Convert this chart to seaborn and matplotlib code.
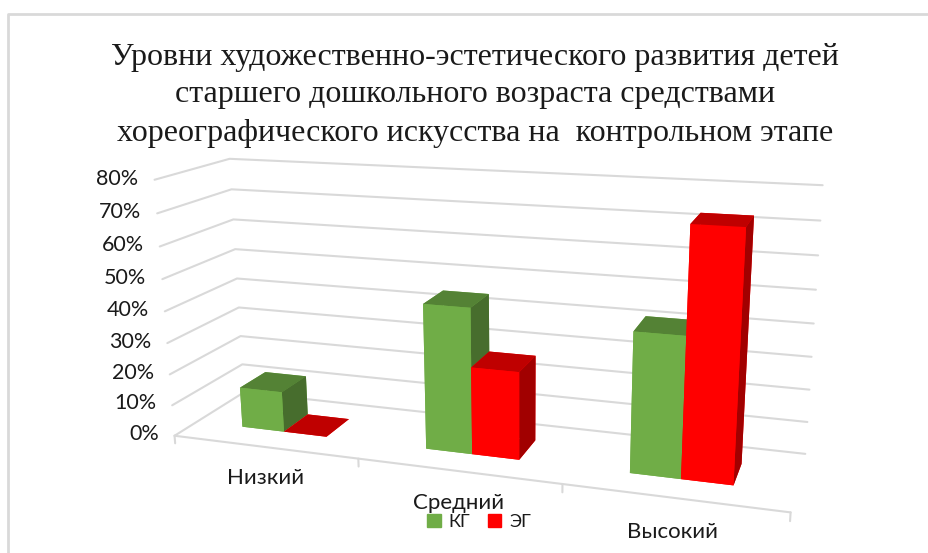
import matplotlib
matplotlib.use("Agg")
import matplotlib.pyplot as plt
from matplotlib.lines import Line2D
from matplotlib.patches import Rectangle
import seaborn as sns

# Values (percent)
categories = ["Низкий", "Средний", "Высокий"]
kg_values = [13, 45, 42]
eg_values = [0, 27, 73]
series_names = ["КГ", "ЭГ"]
y_ticks = [0, 10, 20, 30, 40, 50, 60, 70, 80]
title_lines = [
    "Уровни художественно-эстетического развития детей",
    "старшего дошкольного возраста средствами",
    "хореографического искусства на  контрольном этапе",
]

sns.set_theme(style="white")
plt.rcParams["font.family"] = ["Lato", "DejaVu Sans"]

palette = sns.color_palette(["#70AD47", "#FF0000"])
grid_color = "#D9D9D9"


def shade(color, factor):
    return tuple(c * factor for c in color)


fig = plt.figure(figsize=(9.29, 5.53), dpi=100)

# chart frame: only the top and left edges are in the screenshot
fig.add_artist(Line2D([8 / 929, 8 / 929, 1], [0, 1 - 14 / 553, 1 - 14 / 553],
                      transform=fig.transFigure, color=grid_color, lw=2))

ax = fig.add_axes([0.127, -0.230, 0.761, 1.278], projection="3d",
                  computed_zorder=False)
ax.view_init(elev=15.5, azim=-71, roll=0.5)
ax.set_proj_type("persp", focal_length=0.33)
ax.set_box_aspect((600, 140, 257), zoom=0.97)
ax.set_xlim(0, len(categories), view_margin=0)
ax.set_ylim(0, 1, view_margin=0)
ax.set_zlim(0, max(y_ticks), view_margin=0)
ax.set_axis_off()
ax.patch.set_alpha(0)

n = len(categories)

# wall gridlines
for t in y_ticks:
    ax.plot([0, 0, n], [0, 1, 1], [t, t, t], color=grid_color, lw=1.5, zorder=1)
    ax.text(-0.09, 0, t, f"{t}%", ha="right", va="center", fontsize=15.5,
            color="#1a1a1a", zorder=50)

# floor front edge and category ticks
ax.plot([0, n], [0, 0], [0, 0], color=grid_color, lw=1.5, zorder=1)
for i in range(n + 1):
    ax.plot([i, i], [0, 0], [0, -2.5], color=grid_color, lw=1.5, zorder=1)

# bars, drawn left to right so nearer ones cover farther ones
bar_w = 0.235
bar_start = 0.26
z = 2
for i in range(n):
    for j, vals in enumerate([kg_values, eg_values]):
        c = palette[j]
        faces = [c, shade(c, 0.75), c, c, c, shade(c, 0.63)]
        ax.bar3d(i + bar_start + j * bar_w, 0.31, 0, bar_w, 0.38, vals[i],
                 color=faces, shade=False, linewidth=0, zorder=z)
        z += 1

# category labels under the floor
for i, name in enumerate(categories):
    ax.text(i + 0.5, 0, -10, name, ha="center", va="center", fontsize=16,
            color="#1a1a1a", zorder=50)

for k, line in enumerate(title_lines):
    fig.text(475 / 929, 1 - (57 + 38 * k) / 553, line, ha="center", va="center",
             fontsize=23, family="Liberation Serif", color="#1a1a1a")

handles = [Rectangle((0, 0), 1, 1, color=palette[j]) for j in range(2)]
fig.legend(handles, series_names, loc="center", bbox_to_anchor=(479 / 929, 1 - 522 / 553),
           ncol=2, frameon=False, fontsize=13, handlelength=0.75, handleheight=0.75,
           handletextpad=0.45, columnspacing=0.95, labelcolor="#1a1a1a")

plt.savefig("out.png", dpi=100)
